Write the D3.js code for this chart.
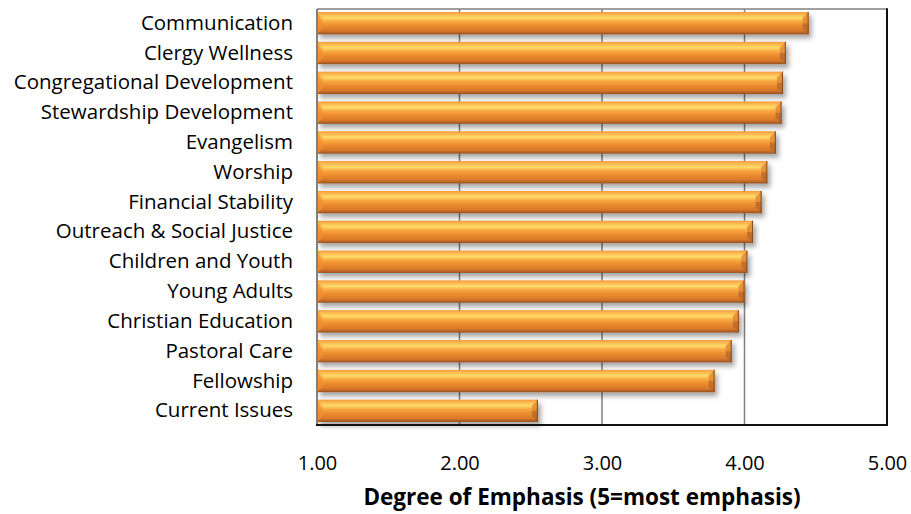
<!DOCTYPE html>
<html><head><meta charset="utf-8">
<script src="https://cdn.jsdelivr.net/npm/d3@7"></script>
<style>
html,body{margin:0;padding:0;background:#fff;}
text{font-family:"Open Sans","Noto Sans",sans-serif;fill:#000;}
</style></head>
<body><svg id="c" width="911" height="514"></svg>
<script>
const categories = ["Communication","Clergy Wellness","Congregational Development","Stewardship Development","Evangelism","Worship","Financial Stability","Outreach & Social Justice","Children and Youth","Young Adults","Christian Education","Pastoral Care","Fellowship","Current Issues"];
const values = [4.45,4.29,4.27,4.26,4.22,4.16,4.12,4.06,4.02,4.00,3.96,3.91,3.79,2.55];
const tickValues = [1,2,3,4,5];
const axisTitle = "Degree of Emphasis (5=most emphasis)";

const svg = d3.select("#c");
const m = {left:317, right:887, top:9, bottom:425};
const x = d3.scaleLinear().domain([1,5]).range([m.left, m.right]);
const y = d3.scaleBand().domain(categories).range([m.top, m.bottom]).paddingInner(0.25).paddingOuter(0.1);

const defs = svg.append("defs");
const g1 = defs.append("linearGradient").attr("id","barG").attr("x1",0).attr("y1",0).attr("x2",0).attr("y2",1);
[[0,"#f39a3c"],[0.1,"#fbb54e"],[0.27,"#ffdc6a"],[0.42,"#f8a842"],[0.62,"#ec8c2e"],[0.84,"#d9782a"],[0.93,"#b86426"],[1,"#8e4f22"]]
 .forEach(([o,c])=>g1.append("stop").attr("offset",o).attr("stop-color",c));
const f = defs.append("filter").attr("id","sh").attr("x","-5%").attr("y","-30%").attr("width","115%").attr("height","190%");
f.append("feDropShadow").attr("dx",3).attr("dy",4).attr("stdDeviation",2.5).attr("flood-color","#000").attr("flood-opacity",0.35);

svg.append("line").attr("x1",m.left).attr("x2",m.right).attr("y1",m.top).attr("y2",m.top).attr("stroke","#808080").attr("stroke-width",1.5);

svg.append("g").selectAll("line").data(tickValues.slice(1,-1)).join("line")
  .attr("x1",d=>x(d)).attr("x2",d=>x(d)).attr("y1",m.top).attr("y2",m.bottom)
  .attr("stroke","#808080").attr("stroke-width",1.5);

const bg = svg.append("g");
const b = 6;
categories.forEach((c,i)=>{
  const x0 = x(1), x1 = x(values[i]), y0 = y(c), y1 = y(c)+y.bandwidth(), ym=(y0+y1)/2;
  const g = bg.append("g");
  g.append("rect").attr("x",x0).attr("y",y0).attr("width",x1-x0).attr("height",y1-y0)
    .attr("fill","url(#barG)").attr("filter","url(#sh)");
  g.append("polygon").attr("points",[[x0,y0],[x0+b,y0+b],[x0+b,ym]].join(" ")).attr("fill","#fbb14a").attr("opacity",0.8);
  g.append("polygon").attr("points",[[x0,y0],[x0+b,ym],[x0+b,y1-b],[x0,y1]].join(" ")).attr("fill","#f28f2e").attr("opacity",0.75);
  g.append("polygon").attr("points",[[x1,y0],[x1-b,y0+b],[x1-b,ym],[x1,ym]].join(" ")).attr("fill","#e08a35").attr("opacity",0.85);
  g.append("polygon").attr("points",[[x1,ym],[x1-b,ym],[x1-b,y1-b],[x1,y1]].join(" ")).attr("fill","#b96a2c").attr("opacity",0.85);
  g.append("line").attr("x1",x1-0.5).attr("x2",x1-0.5).attr("y1",y0).attr("y2",y1).attr("stroke","#8a4a1e").attr("stroke-width",1);
});

svg.append("line").attr("x1",m.left).attr("x2",m.left).attr("y1",m.top).attr("y2",m.bottom).attr("stroke","#808080").attr("stroke-width",2);
svg.append("line").attr("x1",m.right).attr("x2",m.right).attr("y1",m.top-0.75).attr("y2",m.bottom+1).attr("stroke","#111").attr("stroke-width",2);
svg.append("line").attr("x1",m.left-1).attr("x2",m.right+1).attr("y1",m.bottom).attr("y2",m.bottom).attr("stroke","#111").attr("stroke-width",2);

const yAxis = d3.axisLeft(y).tickSize(0).tickPadding(24);
const ya = svg.append("g").attr("transform",`translate(${m.left},0)`).call(yAxis);
ya.select(".domain").remove();
ya.selectAll("text").attr("font-size",20.5).style("font-family",'"Open Sans","Noto Sans",sans-serif').attr("fill","#000");

const xAxis = d3.axisBottom(x).tickValues(tickValues).tickFormat(d3.format(".2f")).tickSize(0).tickPadding(31);
const xa = svg.append("g").attr("transform",`translate(0,${m.bottom})`).call(xAxis);
xa.select(".domain").remove();
xa.selectAll("text").attr("font-size",20).style("font-family",'"Open Sans","Noto Sans",sans-serif').attr("fill","#000");

svg.append("text").attr("x",582).attr("y",505).attr("text-anchor","middle")
  .attr("font-size",22.5).attr("font-weight","bold").text(axisTitle);
</script></body></html>
